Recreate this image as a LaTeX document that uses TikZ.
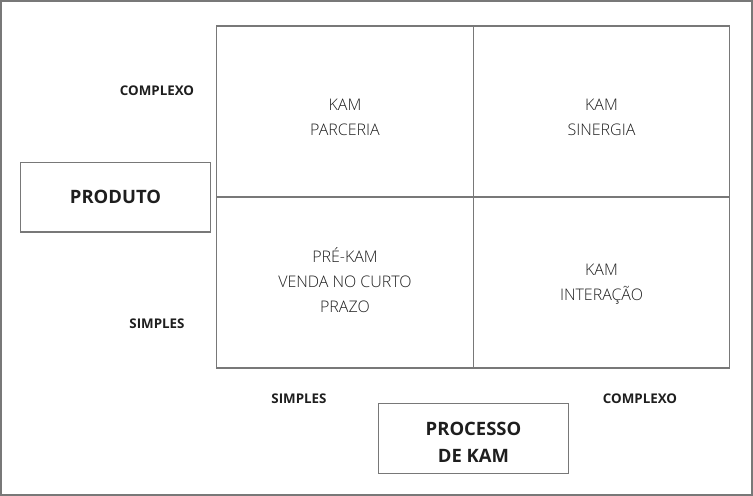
\documentclass[tikz,border=0pt]{standalone}
\usepackage{fontspec}
\setmainfont{Open Sans}
\newfontfamily\lightfont{Open Sans Light}
\usetikzlibrary{positioning}
\definecolor{linegray}{RGB}{120,120,120}
\definecolor{textdark}{RGB}{30,30,30}

\begin{document}
\begin{tikzpicture}[x=0.02cm,y=-0.02cm]

\useasboundingbox (0,0) rectangle (753,496);

% ================= OUTER FRAME =================
\draw[linegray, line width=0.7pt] (1,1) rectangle (752,495);

\tikzset{
cell/.style={
draw=linegray,
line width=0.7pt,
minimum width=5.13cm,
minimum height=3.42cm,
inner sep=0pt
},
celltext/.style={
align=center,
inner sep=0pt,
text=textdark,
font=\lightfont\fontsize{9.1}{14.3}\selectfont
},
axislabel/.style={
text=textdark,
font=\bfseries\fontsize{7.6}{9}\selectfont
},
titlebox/.style={
draw=linegray,
line width=0.7pt,
minimum width=3.8cm,
minimum height=1.39cm,
inner sep=0pt
},
titletext/.style={
align=center,
inner sep=0pt,
text=textdark,
font=\bfseries\fontsize{10.5}{15.3}\selectfont
}
}

% ================= MATRIX CELLS =================
\node[cell] (parceria) at (345,111.5) {};
\node[cell] (sinergia) at (601.5,111.5) {};
\node[cell] (prekam) at (345,282.5) {};
\node[cell] (interacao) at (601.5,282.5) {};

\node[celltext] (parceriatext) at ([yshift=-0.12cm]parceria.center) {KAM\\PARCERIA};
\node[celltext] (sinergiatext) at ([yshift=-0.12cm]sinergia.center) {KAM\\SINERGIA};
\node[celltext] (prekamtext) at ([yshift=0.04cm]prekam.center) {PRÉ-KAM\\VENDA NO CURTO\\PRAZO};
\node[celltext] (interacaotext) at ([yshift=-0.03cm]interacao.center) {KAM\\INTERAÇÃO};

% ================= VERTICAL AXIS =================
\node[axislabel] (prodcomplexo) at (157,91) {COMPLEXO};
\node[axislabel] (prodsimples) at (157,323.5) {SIMPLES};
\node[titlebox] (produto) at (115.5,197.3) {};
\node[titletext] (produtotext) at (produto.center) {PRODUTO};

% ================= HORIZONTAL AXIS =================
\node[axislabel] (procsimples) at (299,398.5) {SIMPLES};
\node[axislabel] (proccomplexo) at (640,398.5) {COMPLEXO};
\node[titlebox] (processo) at (473.5,438.5) {};
\node[titletext] (processotext) at ([yshift=-0.07cm]processo.center) {PROCESSO\\DE KAM};

\end{tikzpicture}
\end{document}
